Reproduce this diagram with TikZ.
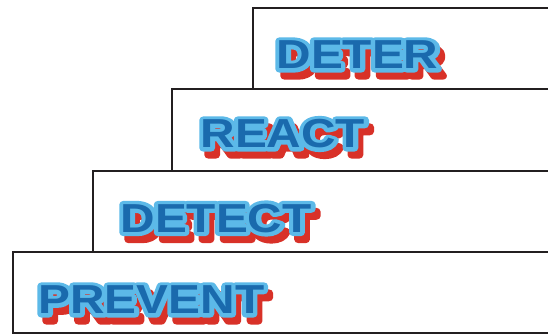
\documentclass[tikz,border=0pt]{standalone}
\usepackage{fontspec}
\usepackage{graphicx}
\newfontfamily\wordfont{Liberation Sans}
\definecolor{inkblue}{HTML}{1A6AAD}
\definecolor{rimblue}{HTML}{5CB9E8}
\definecolor{shadowred}{HTML}{D83128}
\definecolor{frameline}{HTML}{231F20}
\newcommand\rendermode[2]{\special{pdf:literal direct #1 Tr #2 w 1 j 1 J}}
\newcommand\wordshape[1]{\scalebox{1.18}[1]{#1}}
\newcommand\layercopy[4]{\rlap{\hspace*{#1pt}\smash{\raisebox{#2pt}{\rendermode{2}{7.5}\textcolor{#3}{\wordshape{#4}}\rendermode{0}{1}}}}}
\newcommand\fancyword[1]{%
  \wordfont\bfseries\fontsize{40.5}{43}\selectfont
  \layercopy{5}{-7}{shadowred}{#1}%
  \layercopy{0}{0}{rimblue}{#1}%
  \textcolor{inkblue}{\wordshape{#1}}}
\tikzset{
  stair/.style={draw=frameline, line width=2.6pt},
  word/.style={anchor=west, inner sep=0pt, outer sep=0pt}
}
\begin{document}
\begin{tikzpicture}[x=1pt,y=-1pt]
\useasboundingbox (0,0) rectangle (548,334);
\fill[white] (0,0) rectangle (548,334);
% stairs
\draw[stair] (549,8) -- (253,8) -- (253,89);
\draw[stair] (549,89) -- (172,89) -- (172,171);
\draw[stair] (549,171) -- (93,171) -- (93,252);
\draw[stair] (549,252) -- (13,252) -- (13,335);
\draw[stair] (13,333.6) -- (549,333.6);
% labels
\node[word] (deter) at (276.5,55) {\fancyword{DETER}};
\node[word] (react) at (200.5,134) {\fancyword{REACT}};
\node[word] (detect) at (120.5,218.5) {\fancyword{DETECT}};
\node[word] (prevent) at (38.5,300) {\fancyword{PREVENT}};
\end{tikzpicture}
\end{document}
